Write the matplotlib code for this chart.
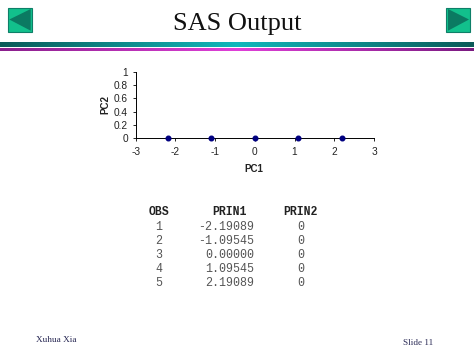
import numpy as np
import matplotlib
matplotlib.use('Agg')
import matplotlib.pyplot as plt
from matplotlib.colors import LinearSegmentedColormap
from matplotlib.patches import Polygon, Rectangle

# values
pc1 = [-2.19089, -1.09545, 0.0, 1.09545, 2.19089]
pc2 = [0, 0, 0, 0, 0]
x_ticks = [-3, -2, -1, 0, 1, 2, 3]
x_labels = ['-3', '-2', '-1', '0', '1', '2', '3']
y_ticks = [0, 0.2, 0.4, 0.6, 0.8, 1]
y_labels = ['0', '0.2', '0.4', '0.6', '0.8', '1']

headers = ['OBS', 'PRIN1', 'PRIN2']
obs = ['1', '2', '3', '4', '5']
prin1 = ['-2.19089', '-1.09545', '0.00000', '1.09545', '2.19089']
prin2 = ['0', '0', '0', '0', '0']

W = 474
H = 355
fig = plt.figure(figsize=(W / 100, H / 100), dpi=100)

# full figure axes in pixel coordinates, for the slide decoration
bg = fig.add_axes([0, 0, 1, 1])
bg.set_xlim(0, W)
bg.set_ylim(H, 0)
bg.axis('off')

# gradient bar and magenta rule
teal = LinearSegmentedColormap.from_list('teal', ['#0b5a58', '#10b8bc', '#0b5a58'])
bg.imshow(np.linspace(0, 1, 256).reshape(1, -1), cmap=teal, extent=(0, W, 47.5, 43), aspect='auto')
magenta = LinearSegmentedColormap.from_list('mag', ['#8a1f8c', '#e040d8', '#7a1a80'])
bg.imshow(np.linspace(0, 1, 256).reshape(1, -1), cmap=magenta, extent=(0, W, 51.3, 48.8), aspect='auto')
bg.set_xlim(0, W)
bg.set_ylim(H, 0)

# nav buttons
bg.add_patch(Rectangle((7.7, 7.7), 24.3, 24, fc='#12c08c', ec='#0e7f68', lw=0.8))
bg.add_patch(Polygon([(9.3, 19.5), (30.7, 9), (30.7, 30.7)], fc='#0b7a62', ec='none'))
bg.add_patch(Rectangle((446.5, 7.7), 24, 24, fc='#12c08c', ec='#0e7f68', lw=0.8))
bg.add_patch(Polygon([(469, 19.5), (448, 9), (448, 30.7)], fc='#0b7a62', ec='none'))

bg.text(237, 24, 'SAS Output', family='Liberation Serif', fontsize=19, ha='center', va='center', color='#111111')

# table
head_y = 212.3
for x, label in zip([159, 229.7, 300.5], headers):
    bg.text(x, head_y, label, family='Liberation Mono', fontweight='bold', fontsize=8.3, ha='center', va='center', color='#222222')
for i in range(len(obs)):
    y = 226.7 + i * 14.15
    bg.text(159, y, obs[i], family='Liberation Mono', fontsize=8.4, ha='center', va='center', color='#555555')
    bg.text(254.5, y, prin1[i], family='Liberation Mono', fontsize=8.4, ha='right', va='center', color='#555555')
    bg.text(300.5, y, prin2[i], family='Liberation Mono', fontsize=8.4, ha='center', va='center', color='#555555')

# footer
bg.text(36, 339.7, 'Xuhua Xia', family='Liberation Serif', fontsize=6.7, ha='left', va='center', color='#2a2a55')
bg.text(403, 343.3, 'Slide 11', family='Liberation Serif', fontsize=6.6, ha='left', va='center', color='#2a2a55')

# scatter chart
left, right, top, bottom = 135.7, 374, 71.7, 138.3
ax = fig.add_axes([left / W, 1 - bottom / H, (right - left) / W, (bottom - top) / H])
ax.patch.set_alpha(0)
ax.scatter(pc1, pc2, s=11, color='#000080', zorder=5, clip_on=False)
ax.set_xlim(-3, 3)
ax.set_ylim(0, 1)
ax.set_xticks(x_ticks)
ax.set_xticklabels(x_labels)
ax.set_yticks(y_ticks)
ax.set_yticklabels(y_labels)
ax.spines['top'].set_visible(False)
ax.spines['right'].set_visible(False)
ax.spines['left'].set_linewidth(0.7)
ax.spines['bottom'].set_linewidth(0.7)
ax.tick_params(axis='both', length=2.5, width=0.7, labelsize=7.3, colors='#222222', pad=3)
ax.tick_params(axis='x', pad=4)
for lab in ax.get_xticklabels() + ax.get_yticklabels():
    lab.set_family('Liberation Sans')

bg.text(254, 169, 'PC1', family='Liberation Sans', fontweight='bold', fontsize=7, ha='center', va='center', color='#222222')
bg.text(105.7, 105, 'PC2', family='Liberation Sans', fontweight='bold', fontsize=7, rotation=90, ha='center', va='center', color='#222222')

fig.savefig('out.png', dpi=100)
